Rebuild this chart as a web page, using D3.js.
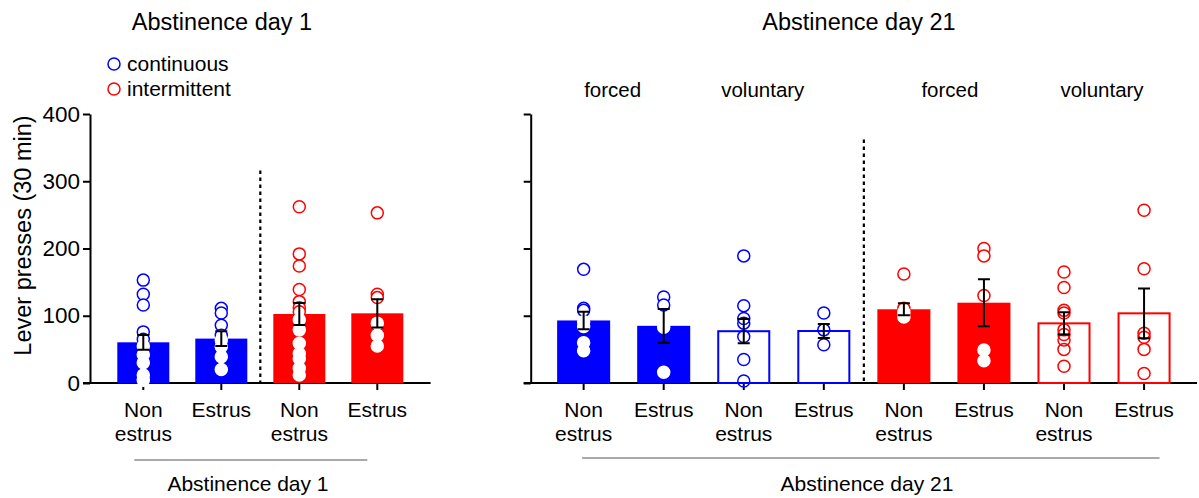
<!DOCTYPE html>
<meta charset="utf-8">
<html>
<head>
<script src="https://d3js.org/d3.v7.min.js"></script>
<style>
  body { margin: 0; background: #fff; }
  text { font-family: "Liberation Sans", Arial, sans-serif; fill: #000; }
</style>
</head>
<body>
<div id="chart"></div>
<script>
// ---- data ----
// day 1
var day1Keys = ["c_ne", "c_e", "i_ne", "i_e"];
var day1Group = ["continuous", "continuous", "intermittent", "intermittent"];
var day1Mean = [60.5, 66, 102.6, 103.6];
var day1Sem = [11, 11, 16.4, 21];
var day1Points = [
  [153, 132, 116, 76, 65, 55, 42, 30, 12, 4],
  [111, 104, 86, 71, 64, 54, 39, 20],
  [262, 192, 174, 139, 121, 112, 106, 94, 79, 59, 44, 36, 22, 12],
  [253, 132, 127, 89, 71, 55]
];

// day 21
var day21Keys = ["cf_ne", "cf_e", "cv_ne", "cv_e", "if_ne", "if_e", "iv_ne", "iv_e"];
var day21Group = ["continuous", "continuous", "continuous", "continuous",
                  "intermittent", "intermittent", "intermittent", "intermittent"];
var day21Mode = ["forced", "forced", "voluntary", "voluntary", "forced", "forced", "voluntary", "voluntary"];
var day21Mean = [93, 85, 77, 77.3, 109.6, 119.4, 88.7, 103.6];
var day21Sem = [13, 25, 18, 10.5, 9, 35, 16.5, 37];
var day21Points = [
  [169, 111, 108, 91, 84, 60, 48],
  [128, 116, 83, 16],
  [189, 115, 96, 89, 69, 35, 3],
  [104, 79, 57],
  [162, 111, 105, 98],
  [200, 189, 130, 49, 33],
  [165, 142, 108, 104, 79, 72, 64, 50, 25],
  [257, 170, 74, 68, 50, 14]
];

var catLines = [["Non", "estrus"], ["Estrus"]];   // alternating Non estrus / Estrus
var yTicks = [0, 100, 200, 300, 400];
var groups = ["continuous", "intermittent"];
var groupColors = ["#0000ff", "#ff0000"];
var modeLabels = ["forced", "voluntary", "forced", "voluntary"];

// ---- layout ----
var width = 1199, height = 498;
var svg = d3.select("#chart").append("svg")
  .attr("width", width).attr("height", height);

var color = d3.scaleOrdinal(groups, groupColors);
var y = d3.scaleLinear().domain([0, 400]).range([383, 114]);

var x1 = d3.scaleBand(day1Keys, [90, 430.6]).paddingInner(1 / 3).paddingOuter(0.35);
var x21 = d3.scaleBand(day21Keys, [530.7, 1197]).paddingInner(0.3375).paddingOuter(0.33);

function drawPanel(x, keys, grp, mean, sem, pts, open, showLabels) {
  var g = svg.append("g");

  // y axis
  var ya = g.append("g")
    .attr("transform", `translate(${x.range()[0]},0)`)
    .call(d3.axisLeft(y).tickValues(yTicks).tickSize(7).tickSizeOuter(0).tickPadding(3)
      .tickFormat(showLabels ? d3.format("d") : ""));
  ya.selectAll("path, line").attr("stroke", "#000").attr("stroke-width", 2);
  ya.selectAll("text").attr("font-size", 22.5).attr("font-family", "Liberation Sans, Arial, sans-serif");

  // x axis
  var xa = g.append("g")
    .attr("transform", `translate(0,${y(0)})`)
    .call(d3.axisBottom(x).tickSize(7).tickSizeOuter(0).tickFormat(""));
  xa.select("path").attr("stroke", "#000").attr("stroke-width", 2)
    .attr("d", `M${x.range()[0] - 7},0H${x.range()[1]}`);
  xa.selectAll("line").attr("stroke", "#000").attr("stroke-width", 2);

  // category labels
  var cl = g.append("g").selectAll("text")
    .data(keys).join("text")
    .attr("text-anchor", "middle")
    .attr("font-size", 21)
    .attr("transform", d => `translate(${x(d) + x.bandwidth() / 2},0)`);
  cl.selectAll("tspan")
    .data((d, i) => catLines[i % 2])
    .join("tspan")
    .attr("x", 0)
    .attr("y", (d, i) => 417 + i * 24)
    .text(d => d);

  var bw = x.bandwidth();
  // bars
  g.append("g").selectAll("rect")
    .data(keys).join("rect")
    .attr("x", (d, i) => x(d) + (open[i] ? 1 : 0))
    .attr("y", (d, i) => y(mean[i]))
    .attr("width", (d, i) => bw - (open[i] ? 2 : 0))
    .attr("height", (d, i) => y(0) - y(mean[i]))
    .attr("fill", (d, i) => open[i] ? "#fff" : color(grp[i]))
    .attr("stroke", (d, i) => open[i] ? color(grp[i]) : "none")
    .attr("stroke-width", 2);

  // individual points
  keys.forEach(function (k, i) {
    g.append("g").selectAll("circle")
      .data(pts[i]).join("circle")
      .attr("cx", x(k) + bw / 2)
      .attr("cy", d => y(d))
      .attr("r", 6)
      .attr("fill", "#fff")
      .attr("fill-opacity", open[i] ? 0 : 1)
      .attr("stroke", open[i] ? color(grp[i]) : (d => d > mean[i] ? color(grp[i]) : "#fff"))
      .attr("stroke-width", 1.5);
  });

  // error bars (mean +- sem)
  var eb = g.append("g").attr("stroke", "#000").attr("stroke-width", 2).attr("fill", "none");
  keys.forEach(function (k, i) {
    var cx = x(k) + bw / 2, lo = y(mean[i] - sem[i]), hi = y(mean[i] + sem[i]);
    eb.append("path").attr("d", `M${cx},${lo}V${hi}M${cx - 6},${lo}H${cx + 6}M${cx - 6},${hi}H${cx + 6}`);
  });
  return g;
}

drawPanel(x1, day1Keys, day1Group, day1Mean, day1Sem, day1Points, [false, false, false, false], true);
drawPanel(x21, day21Keys, day21Group, day21Mean, day21Sem, day21Points,
  day21Mode.map(m => m === "voluntary"), false);

// dotted separators between groups
function sep(x, a, b, topVal) {
  var xs = (x(a) + x.bandwidth() + x(b)) / 2;
  svg.append("line")
    .attr("x1", xs).attr("x2", xs)
    .attr("y1", y(topVal)).attr("y2", y(0))
    .attr("stroke", "#000").attr("stroke-width", 2.2)
    .attr("stroke-dasharray", "3.5,3.5");
}
sep(x1, "c_e", "i_ne", 316);
sep(x21, "cv_e", "if_ne", 362);

// titles
svg.append("text").attr("x", 222).attr("y", 30).attr("text-anchor", "middle")
  .attr("font-size", 23.5).text("Abstinence day 1");
svg.append("text").attr("x", 859).attr("y", 30).attr("text-anchor", "middle")
  .attr("font-size", 23.5).text("Abstinence day 21");

// legend
var leg = svg.append("g").selectAll("g")
  .data(groups).join("g")
  .attr("transform", (d, i) => `translate(114,${64 + i * 25})`);
leg.append("circle").attr("r", 6).attr("fill", "none")
  .attr("stroke", d => color(d)).attr("stroke-width", 1.5);
leg.append("text").attr("x", 13).attr("y", 7).attr("font-size", 21).text(d => d);

// forced / voluntary labels above pairs
var nudge = [-11, -21, 6, -2];
svg.append("g").selectAll("text")
  .data(modeLabels).join("text")
  .attr("x", (d, i) => {
    var a = day21Keys[i * 2], b = day21Keys[i * 2 + 1];
    return (x21(a) + x21(b) + x21.bandwidth()) / 2 + nudge[i];
  })
  .attr("y", 97)
  .attr("text-anchor", "middle")
  .attr("font-size", 20.5)
  .text(d => d);

// y axis title
svg.append("text")
  .attr("transform", `translate(31,${y(200) - 13}) rotate(-90)`)
  .attr("text-anchor", "middle")
  .attr("font-size", 23.5)
  .text("Lever presses (30 min)");

// bottom group brackets
function footer(x0, x1p, ly, label, tx) {
  svg.append("line").attr("x1", x0).attr("x2", x1p).attr("y1", ly).attr("y2", ly)
    .attr("stroke", "#8c8c8c").attr("stroke-width", 1.5);
  svg.append("text").attr("x", tx).attr("y", 491).attr("text-anchor", "middle")
    .attr("font-size", 21).text(label);
}
footer(x1(day1Keys[0]) + 17, x1(day1Keys[3]) + 16, 460, "Abstinence day 1", 248);
footer(x21(day21Keys[0]) + 25, x21(day21Keys[7]) + 42, 458, "Abstinence day 21", 867);
</script>
</body>
</html>
